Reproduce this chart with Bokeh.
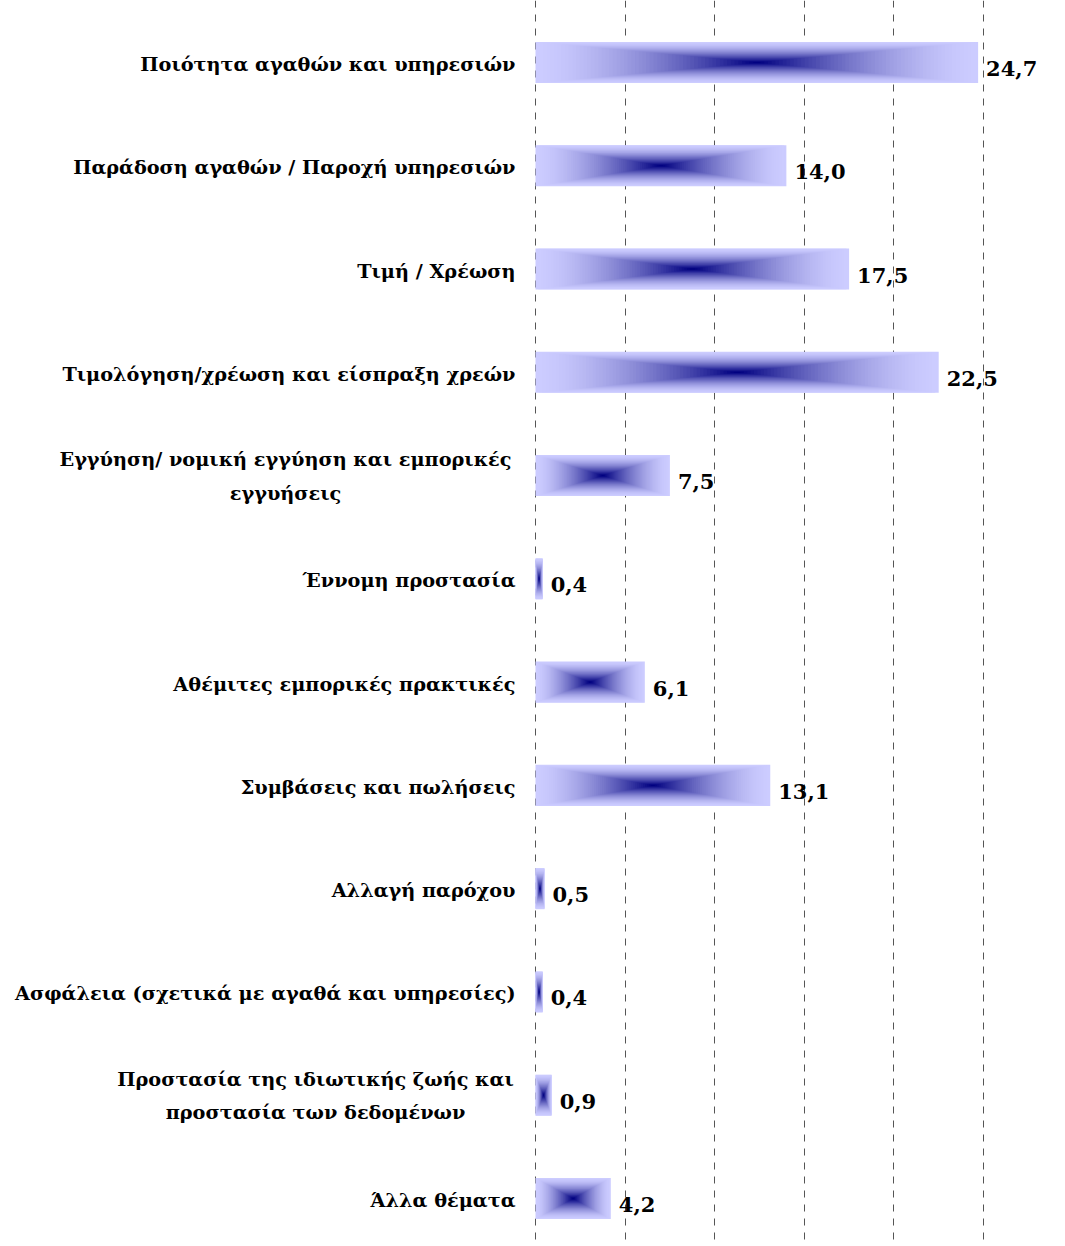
from bokeh.plotting import figure
from bokeh.models import Range1d, FixedTicker, ColumnDataSource
from bokeh.core.properties import value
from bokeh.embed import file_html
from bokeh.resources import INLINE

categories = [
    "Ποιότητα αγαθών και υπηρεσιών",
    "Παράδοση αγαθών / Παροχή υπηρεσιών",
    "Τιμή / Χρέωση",
    "Τιμολόγηση/χρέωση και είσπραξη χρεών",
    "Εγγύηση/ νομική εγγύηση και εμπορικές\nεγγυήσεις",
    "Έννομη προστασία",
    "Αθέμιτες εμπορικές πρακτικές",
    "Συμβάσεις και πωλήσεις",
    "Αλλαγή παρόχου",
    "Ασφάλεια (σχετικά με αγαθά και υπηρεσίες)",
    "Προστασία της ιδιωτικής ζωής και\nπροστασία των δεδομένων",
    "Άλλα θέματα",
]
values = [24.7, 14.0, 17.5, 22.5, 7.5, 0.4, 6.1, 13.1, 0.5, 0.4, 0.9, 4.2]
value_labels = ["24,7", "14,0", "17,5", "22,5", "7,5", "0,4", "6,1", "13,1", "0,5", "0,4", "0,9", "4,2"]
grid_ticks = [0, 5, 10, 15, 20, 25]

W, H = 1065, 1246
p = figure(width=W, height=H, output_backend="svg", toolbar_location=None,
           x_range=Range1d(-29.855, 29.576), y_range=Range1d(11.465, -0.600),
           min_border=0, outline_line_color=None)
p.xaxis.visible = False
p.yaxis.visible = False
p.ygrid.grid_line_color = None
p.xgrid.ticker = FixedTicker(ticks=grid_ticks)
p.xgrid.grid_line_color = "#555555"
p.xgrid.grid_line_dash = "7 7"
p.xgrid.grid_line_width = 1

# gradient bars: nested rectangles from edge colour to centre colour
edge = (204, 204, 255)
centre = (0, 0, 128)
N = 60
GAMMA = 1.6
hh = 0.199
L, R, T, B, C = [], [], [], [], []
for i, v in enumerate(values):
    cx = v / 2.0
    hw = v / 2.0
    for k in range(N):
        s = 1.0 - k / N
        t = (k / (N - 1)) ** GAMMA
        col = tuple(int(round(edge[j] + (centre[j] - edge[j]) * t)) for j in range(3))
        L.append(cx - hw * s)
        R.append(cx + hw * s)
        T.append(i - hh * s)
        B.append(i + hh * s)
        C.append("#%02x%02x%02x" % col)
p.quad(left=L, right=R, top=T, bottom=B, fill_color=C, line_color=None)

ys = list(range(len(categories)))
single = [i for i, c in enumerate(categories) if "\n" not in c]
multi = [i for i, c in enumerate(categories) if "\n" in c]

FONT = value("DejaVu Serif")
src1 = ColumnDataSource(dict(x=[0] * len(single), y=[ys[i] for i in single],
                             t=[categories[i] for i in single]))
p.text(x="x", y="y", text="t", source=src1, x_offset=-20, y_offset=2,
       text_align="right", text_baseline="middle",
       text_font=FONT, text_font_style="bold",
       text_font_size="19.3px", text_color="black")

multi_offsets = {4: -250, 10: -220}
src2 = ColumnDataSource(dict(x=[0] * len(multi), y=[ys[i] for i in multi],
                             t=[categories[i] for i in multi],
                             xo=[multi_offsets[i] for i in multi]))
p.text(x="x", y="y", text="t", source=src2, x_offset="xo", y_offset=1,
       text_align="center", text_baseline="middle", text_line_height=1.45,
       text_font=FONT, text_font_style="bold",
       text_font_size="19.3px", text_color="black")

src3 = ColumnDataSource(dict(x=values, y=ys, t=value_labels))
p.text(x="x", y="y", text="t", source=src3, x_offset=8, y_offset=6,
       text_align="left", text_baseline="middle",
       text_font=FONT, text_font_style="bold",
       text_font_size="21px", text_color="black")

open("out.html", "w").write(file_html(p, INLINE))
